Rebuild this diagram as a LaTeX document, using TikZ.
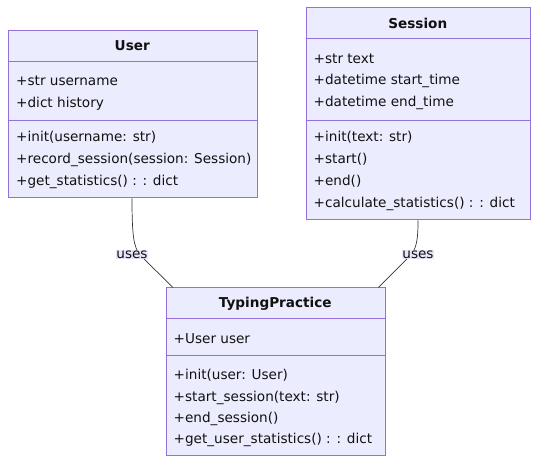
\documentclass[tikz,border=0pt]{standalone}
\usepackage{fontspec}
\setmainfont{DejaVu Sans}
\usetikzlibrary{calc}
\definecolor{boxfill}{HTML}{ECECFF}
\definecolor{boxline}{HTML}{9370DB}
\definecolor{txtcol}{HTML}{111111}
\definecolor{edgecol}{HTML}{333333}
\definecolor{lblfill}{HTML}{E6E6F8}
\tikzset{
  classbox/.style={draw=boxline, fill=boxfill, line width=0.9pt, anchor=north west, inner sep=0pt},
  divline/.style={draw=boxline, line width=0.9pt},
  txt/.style={anchor=base west, inner sep=0pt, text=txtcol, font=\fontsize{13.6}{16}\selectfont},
  ttl/.style={anchor=base, inner sep=0pt, text=txtcol, font=\fontsize{13.6}{16}\selectfont\bfseries},
  edge/.style={draw=edgecol, line width=0.7pt},
  lbl/.style={fill=lblfill, inner xsep=0pt, inner ysep=1pt, text=txtcol, font=\fontsize{13.6}{16}\selectfont}
}
\begin{document}
\begin{tikzpicture}[x=1pt,y=-1pt]
\useasboundingbox (0,0) rectangle (546,470);
\fill[white] (0,0) rectangle (546,470);

% ---------- User ----------
\node[classbox, minimum width=249.5pt, minimum height=167pt] (user) at (7.5,30.5) {};
\draw[divline] (7.5,61) -- (257,61);
\draw[divline] (7.5,120) -- (257,120);
\node[ttl] (userT) at (132.25,51) {User};
\node[txt] (ua1) at (16,85.5) {+str username};
\node[txt] (ua2) at (16,107.5) {+dict history};
\node[txt] (um1) at (16,141.7) {+init(username: str)};
\node[txt] (um2) at (16,164) {+record\_session(session: Session)};
\node[txt] (um3) at (16,186) {+get\_statistics() : : dict};

% ---------- Session ----------
\node[classbox, minimum width=224.5pt, minimum height=212pt] (session) at (305.5,7.5) {};
\draw[divline] (305.5,38) -- (530,38);
\draw[divline] (305.5,120) -- (530,120);
\node[ttl] (sesT) at (417.75,28.5) {Session};
\node[txt] (sa1) at (313.5,63.5) {+str text};
\node[txt] (sa2) at (313.5,85) {+datetime start\_time};
\node[txt] (sa3) at (313.5,106.5) {+datetime end\_time};
\node[txt] (sm1) at (313.5,142) {+init(text: str)};
\node[txt] (sm2) at (313.5,164) {+start()};
\node[txt] (sm3) at (313.5,186) {+end()};
\node[txt] (sm4) at (313.5,208) {+calculate\_statistics() : : dict};

% ---------- TypingPractice ----------
\node[classbox, minimum width=219.5pt, minimum height=167.5pt] (tp) at (165.5,287.5) {};
\draw[divline] (165.5,318) -- (385,318);
\draw[divline] (165.5,355.5) -- (385,355.5);
\node[ttl] (tpT) at (275.25,308) {TypingPractice};
\node[txt] (ta1) at (173.5,343.3) {+User user};
\node[txt] (tm1) at (173.5,379.3) {+init(user: User)};
\node[txt] (tm2) at (173.5,401) {+start\_session(text: str)};
\node[txt] (tm3) at (173.5,422.3) {+end\_session()};
\node[txt] (tm4) at (173.5,443.3) {+get\_user\_statistics() : : dict};

% ---------- connectors ----------
\coordinate (ulc) at (132,254.5);
\coordinate (slc) at (418,254.5);
\draw[edge] (user.south -| ulc) .. controls ($(ulc)+(0,-16.5)$) and ($(ulc)+(2,-7.5)$) .. ($(ulc)+(8,0.5)$) -- ($(tp.north west)+(7.5,0)$);
\draw[edge] (session.south -| slc) .. controls ($(slc)+(0,-16.5)$) and ($(slc)+(-1,-7.5)$) .. ($(slc)+(-7,0.5)$) -- ($(tp.north east)+(-7.5,0)$);
\node[lbl] (ul) at (ulc) {uses};
\node[lbl] (sl) at (slc) {uses};
\end{tikzpicture}
\end{document}
